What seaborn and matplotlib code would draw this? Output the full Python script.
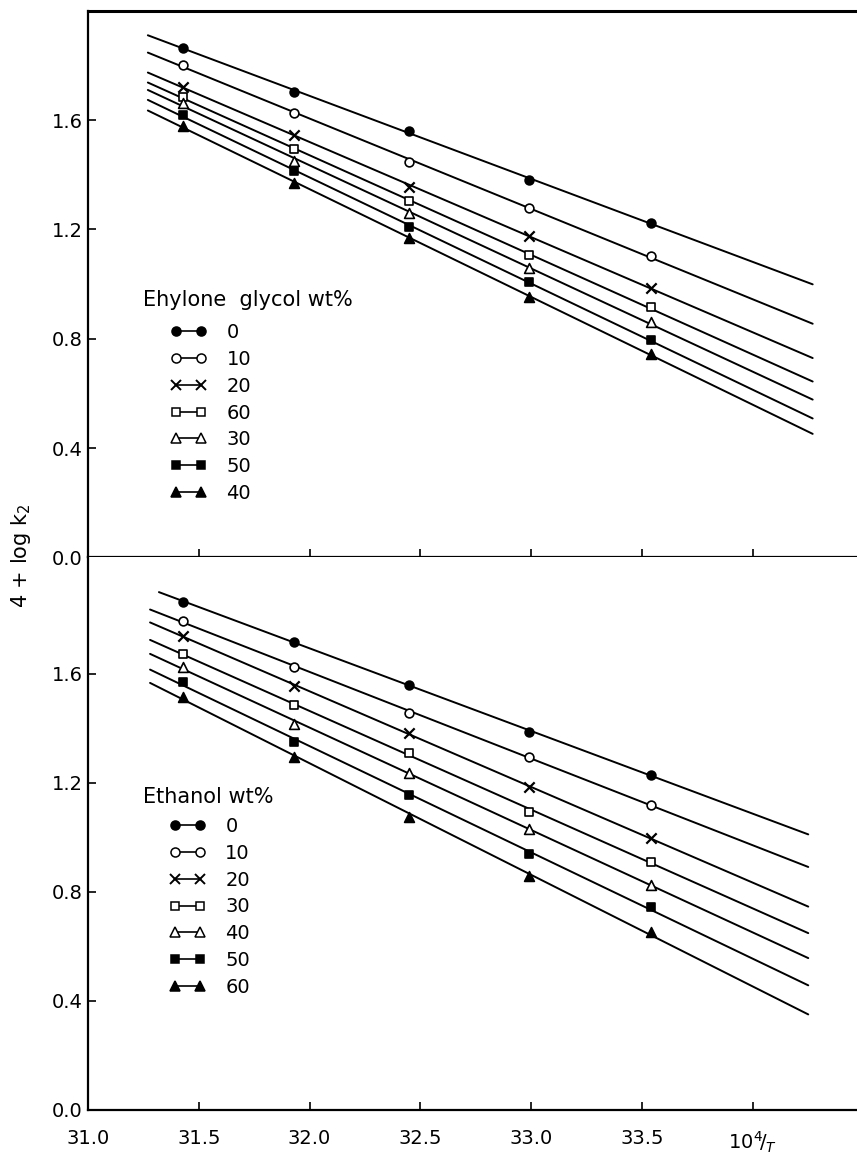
import numpy as np
import matplotlib
matplotlib.use("Agg")
import matplotlib.pyplot as plt
import seaborn as sns
from matplotlib.lines import Line2D

# ---------------- data ----------------
inv_T = [31.43, 31.93, 32.45, 32.99, 33.54]          # 10^4 / T

# Ethylene glycol panel (top) - legend order as printed
eg_labels = ["0", "10", "20", "60", "30", "50", "40"]
eg_0 = [1.864, 1.703, 1.560, 1.381, 1.223]
eg_10 = [1.802, 1.625, 1.446, 1.278, 1.102]
eg_20 = [1.721, 1.545, 1.355, 1.176, 0.986]
eg_60 = [1.684, 1.494, 1.303, 1.106, 0.915]
eg_30 = [1.662, 1.449, 1.259, 1.058, 0.860]
eg_50 = [1.618, 1.413, 1.208, 1.007, 0.795]
eg_40 = [1.578, 1.369, 1.168, 0.952, 0.745]

# Ethanol panel (bottom)
et_labels = ["0", "10", "20", "30", "40", "50", "60"]
et_0 = [1.865, 1.718, 1.560, 1.388, 1.229]
et_10 = [1.794, 1.627, 1.456, 1.297, 1.119]
et_20 = [1.739, 1.556, 1.382, 1.186, 0.997]
et_30 = [1.672, 1.486, 1.309, 1.095, 0.911]
et_40 = [1.625, 1.417, 1.238, 1.030, 0.826]
et_50 = [1.570, 1.352, 1.156, 0.939, 0.746]
et_60 = [1.517, 1.297, 1.076, 0.859, 0.654]

# extent of the fitted straight lines (10^4/T)
eg_fit_start = [31.27, 31.27, 31.27, 31.27, 31.27, 31.27, 31.27]
eg_fit_end = [34.27, 34.27, 34.27, 34.27, 34.27, 34.27, 34.27]
et_fit_start = [31.32, 31.28, 31.28, 31.28, 31.28, 31.28, 31.28]
et_fit_end = [34.25, 34.25, 34.25, 34.25, 34.25, 34.25, 34.25]

x_ticks = [31.0, 31.5, 32.0, 32.5, 33.0, 33.5, 34.0]
x_ticklabels = ["31.0", "31.5", "32.0", "32.5", "33.0", "33.5", r"$10^{4}\!/_{T}$"]
y_ticks = [0.0, 0.4, 0.8, 1.2, 1.6]
y_ticklabels = ["0.0", "0.4", "0.8", "1.2", "1.6"]

# ---------------- style ----------------
sns.set_theme(style="ticks")
plt.rcParams["font.family"] = ["DejaVu Sans"]
plt.rcParams["mathtext.fontset"] = "dejavusans"
for key in ("text.color", "axes.labelcolor", "xtick.color", "ytick.color",
            "axes.edgecolor", "legend.labelcolor"):
    plt.rcParams[key] = "black"

# (marker, facecolor) for the seven symbols: filled circle, open circle, x,
# open square, open triangle, filled square, filled triangle
symbols = [("o", "black"), ("o", "white"), ("x", "black"), ("s", "white"),
           ("^", "white"), ("s", "black"), ("^", "black")]
sym_size = {"o": 40, "x": 55, "s": 36, "^": 50}
leg_size = {"o": 6.5, "x": 7.0, "s": 6.0, "^": 7.0}

fig = plt.figure(figsize=(8.57, 11.64), dpi=100)
ax_top = fig.add_axes([0.1027, 0.5212, 0.8973, 0.4696])
ax_bot = fig.add_axes([0.1027, 0.0464, 0.8973, 0.4748], sharex=ax_top)


def draw_panel(ax, series, starts, ends):
    for (vals, (m, fc), x0, x1) in zip(series, symbols, starts, ends):
        coef = np.polyfit(inv_T, vals, 1)
        xs = np.array([x0, x1])
        sns.lineplot(x=xs, y=np.polyval(coef, xs), color="black", lw=1.4,
                     ax=ax, zorder=2, legend=False)
        if m == "x":
            sns.scatterplot(x=inv_T, y=vals, marker="x", color="black",
                            s=sym_size[m], linewidth=1.6, ax=ax, zorder=3,
                            legend=False)
        else:
            sns.scatterplot(x=inv_T, y=vals, marker=m, facecolor=fc,
                            edgecolor="black", s=sym_size[m], linewidth=1.2,
                            ax=ax, zorder=3, legend=False)


draw_panel(ax_top, [eg_0, eg_10, eg_20, eg_60, eg_30, eg_50, eg_40],
           eg_fit_start, eg_fit_end)
draw_panel(ax_bot, [et_0, et_10, et_20, et_30, et_40, et_50, et_60],
           et_fit_start, et_fit_end)


def make_handles():
    hs = []
    for m, fc in symbols:
        if m == "x":
            hs.append(Line2D([0], [0], color="black", lw=1.2, marker="x",
                             markersize=leg_size[m], markeredgewidth=1.4))
        else:
            hs.append(Line2D([0], [0], color="black", lw=1.2, marker=m,
                             markerfacecolor=fc, markeredgecolor="black",
                             markeredgewidth=1.1, markersize=leg_size[m]))
    return hs


leg_kw = dict(loc="center left", frameon=False, numpoints=2, handlelength=1.9,
              handletextpad=1.0, labelspacing=0.4, borderpad=0,
              borderaxespad=0, fontsize=14, labelcolor="black")
ax_top.legend(make_handles(), eg_labels, bbox_to_anchor=(31.37, 0.528),
              bbox_transform=ax_top.transData, **leg_kw)
ax_bot.legend(make_handles(), et_labels, bbox_to_anchor=(31.365, 0.745),
              bbox_transform=ax_bot.transData, **leg_kw)
ax_top.text(31.25, 0.94, "Ehylone  glycol wt%", fontsize=15, va="center",
            ha="left", color="black")
ax_bot.text(31.25, 1.15, "Ethanol wt%", fontsize=15, va="center", ha="left",
            color="black")

for ax, ytop in ((ax_top, 2.0), (ax_bot, 2.028)):
    ax.set_xlim(31.0, 34.47)
    ax.set_ylim(0.0, ytop)
    ax.set_yticks(y_ticks)
    ax.set_yticklabels(y_ticklabels)
    ax.set_xticks(x_ticks)
    ax.tick_params(axis="both", direction="in", length=6, width=1.2,
                   labelsize=14, colors="black")
    ax.tick_params(axis="y", pad=4)
    ax.tick_params(axis="x", pad=14)
    ax.spines["right"].set_visible(False)
    for s in ax.spines.values():
        s.set_linewidth(1.6)
        s.set_color("black")
    ax.set_xlabel("")
    ax.set_ylabel("")
    ax.set_facecolor("white")

ax_top.spines["top"].set_linewidth(2.2)
ax_bot.spines["top"].set_visible(False)
ax_top.tick_params(axis="x", labelbottom=False)
ax_bot.set_xticklabels(x_ticklabels)

fig.text(0.024, 0.523, r"4 + log k$_2$", rotation=90, va="center",
         ha="center", fontsize=15, color="black")

fig.savefig("out.png", dpi=100, facecolor="white")
